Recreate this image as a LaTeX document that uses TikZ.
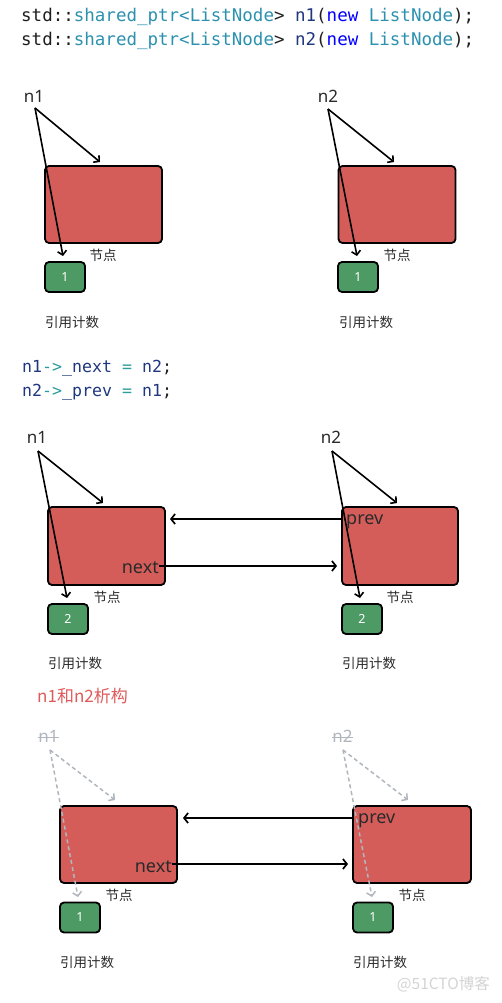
\documentclass[tikz,border=0pt]{standalone}
\usepackage{fontspec}
\setmainfont{Noto Sans}
\newfontfamily\cjk{Noto Sans CJK SC}
\newfontfamily\mono{DejaVu Sans Mono}
\usetikzlibrary{arrows.meta}
\definecolor{nodered}{HTML}{D45D5A}
\definecolor{cntgreen}{HTML}{4E9A64}
\definecolor{codetype}{HTML}{2B91AF}
\definecolor{codekw}{HTML}{0000FF}
\definecolor{codevar}{HTML}{1F377F}
\definecolor{codetxt}{HTML}{1E1E1E}
\definecolor{codeop}{HTML}{2A9D9A}
\definecolor{titlered}{HTML}{E05A5A}
\definecolor{ghost}{HTML}{B0B6BE}
\definecolor{lbl}{HTML}{2A2A2A}
\definecolor{wm}{HTML}{D4D4D4}
\tikzset{
  listnode/.style={draw=black, fill=nodered, line width=1.8pt, rounded corners=4pt,
    minimum width=117pt, minimum height=77pt, inner sep=0pt},
  cnt/.style={draw=black, fill=cntgreen, line width=1.8pt, rounded corners=4pt,
    minimum width=40pt, minimum height=30pt, inner sep=0pt, text=white,
    font=\fontsize{12.5}{14}\selectfont},
  ptr/.style={-{Straight Barb[length=4pt,width=9pt]}, line width=1.6pt, black},
  ghostptr/.style={-{Straight Barb[length=4pt,width=9pt]}, line width=1.5pt, ghost,
    dash pattern=on 4pt off 3pt},
  link/.style={-{Straight Barb[length=4pt,width=10pt]}, line width=1.7pt, black},
  varlbl/.style={inner sep=0pt, text=lbl, font=\fontsize{17}{19}\selectfont},
  fieldlbl/.style={inner sep=0pt, text=lbl, font=\fontsize{18}{20}\selectfont},
  cjklbl/.style={inner sep=0pt, text=lbl, font=\cjk\fontsize{13.5}{15}\selectfont},
  codeline/.style={inner sep=0pt, anchor=west},
}
\begin{document}
\begin{tikzpicture}[x=1pt,y=-1pt]
\useasboundingbox (0,0) rectangle (501,1003);
\fill[white] (0,0) rectangle (501,1003);

% ---------- code block 1 ----------
\node[codeline, font=\mono\fontsize{17.5}{20}\selectfont] (code1) at (21,17)
  {\textcolor{codetxt}{std::}\textcolor{codetype}{shared\_ptr<ListNode}\textcolor{codetxt}{>} \textcolor{codevar}{n1}\textcolor{codetxt}{(}\textcolor{codekw}{new} \textcolor{codetype}{ListNode}\textcolor{codetxt}{);}};
\node[codeline, font=\mono\fontsize{17.5}{20}\selectfont] (code2) at (21,41)
  {\textcolor{codetxt}{std::}\textcolor{codetype}{shared\_ptr<ListNode}\textcolor{codetxt}{>} \textcolor{codevar}{n2}\textcolor{codetxt}{(}\textcolor{codekw}{new} \textcolor{codetype}{ListNode}\textcolor{codetxt}{);}};

% ---------- section 1 ----------
\node[listnode] (a1) at (103.5,204.5) {};
\node[listnode] (a2) at (397,204.5) {};
\node[cnt] (ac1) at (65,277) {1};
\node[cnt] (ac2) at (358,277) {1};
\node[varlbl] (an1) at (34,96) {n1};
\node[varlbl] (an2) at (328,96) {n2};
\node[cjklbl] (ad1) at (103,255) {节点};
\node[cjklbl] (ad2) at (397,255) {节点};
\node[cjklbl] (ar1) at (72,322) {引用计数};
\node[cjklbl] (ar2) at (366,322) {引用计数};
\coordinate (as1) at (35,108);
\coordinate (as2) at (328,109);
\coordinate (at1) at (100,162);
\coordinate (au1) at (63,256);
\coordinate (at2) at (394,162);
\coordinate (au2) at (357,256);
\draw[ptr] (as1) -- (at1);
\draw[ptr] (as1) -- (au1);
\draw[ptr] (as2) -- (at2);
\draw[ptr] (as2) -- (au2);

% ---------- code block 2 ----------
\node[codeline, font=\mono\fontsize{16.6}{19}\selectfont] (code3) at (22,368)
  {\textcolor{codevar}{n1}\textcolor{codeop}{->}\textcolor{codevar}{\_next} \textcolor{codeop}{=} \textcolor{codevar}{n2}\textcolor{codetxt}{;}};
\node[codeline, font=\mono\fontsize{16.6}{19}\selectfont] (code4) at (22,392)
  {\textcolor{codevar}{n2}\textcolor{codeop}{->}\textcolor{codevar}{\_prev} \textcolor{codeop}{=} \textcolor{codevar}{n1}\textcolor{codetxt}{;}};

% ---------- section 2 ----------
\node[listnode, minimum height=78pt] (b1) at (106.5,546) {};
\node[listnode, minimum height=78pt, minimum width=116pt] (b2) at (400,546) {};
\node[cnt] (bc1) at (68,619) {2};
\node[cnt] (bc2) at (362,619) {2};
\node[varlbl] (bn1) at (37,437) {n1};
\node[varlbl] (bn2) at (331,437) {n2};
\node[cjklbl] (bd1) at (107,597) {节点};
\node[cjklbl] (bd2) at (400,597) {节点};
\node[cjklbl] (br1) at (75,663) {引用计数};
\node[cjklbl] (br2) at (369,663) {引用计数};
\node[fieldlbl, anchor=east] (bnext) at (159,568) {next};
\node[fieldlbl, anchor=west] (bprev) at (346,522) {prev};
\coordinate (bs1) at (38,451);
\coordinate (bs2) at (332,451);
\coordinate (bt1) at (103,503);
\coordinate (bu1) at (67,598);
\coordinate (bt2) at (397,503);
\coordinate (bu2) at (360,598);
\coordinate (bnextend) at (337,566);
\coordinate (bprevstart) at (343,519);
\coordinate (bprevend) at (170,519);
\draw[ptr] (bs1) -- (bt1);
\draw[ptr] (bs1) -- (bu1);
\draw[ptr] (bs2) -- (bt2);
\draw[ptr] (bs2) -- (bu2);
\draw[link] (bnext.east |- bnextend) -- (bnextend);
\draw[link] (bprevstart) -- (bprevend);

% ---------- section 3 ----------
\node[inner sep=0pt, anchor=west, text=titlered, font=\cjk\fontsize{17}{19}\selectfont] (title3) at (37,696) {n1和n2析构};
\node[listnode] (c1) at (118.5,844.5) {};
\node[listnode, minimum width=118pt] (c2) at (412,844.5) {};
\node[cnt] (cc1) at (80,917.5) {1};
\node[cnt] (cc2) at (373,917.5) {1};
\node[varlbl, text=ghost] (cn1) at (48.5,736) {n1};
\node[varlbl, text=ghost] (cn2) at (342.5,736) {n2};
\draw[ghost, line width=1pt] ([yshift=-1.5pt]cn1.west) -- ([yshift=-1.5pt]cn1.east);
\draw[ghost, line width=1pt] ([yshift=-1.5pt]cn2.west) -- ([yshift=-1.5pt]cn2.east);
\node[cjklbl] (cd1) at (119,895) {节点};
\node[cjklbl] (cd2) at (412,895) {节点};
\node[cjklbl] (cr1) at (87,962) {引用计数};
\node[cjklbl] (cr2) at (380,962) {引用计数};
\node[fieldlbl, anchor=east] (cnext) at (172,867) {next};
\node[fieldlbl, anchor=west] (cprev) at (358,821) {prev};
\coordinate (cs1) at (50,750);
\coordinate (cs2) at (343,750);
\coordinate (ct1) at (115,800);
\coordinate (cu1) at (78,897);
\coordinate (ct2) at (408,800);
\coordinate (cu2) at (372,897);
\coordinate (cnextend) at (348,864);
\coordinate (cprevstart) at (354,818);
\coordinate (cprevend) at (183,818);
\draw[ghostptr] (cs1) -- (ct1);
\draw[ghostptr] (cs1) -- (cu1);
\draw[ghostptr] (cs2) -- (ct2);
\draw[ghostptr] (cs2) -- (cu2);
\draw[link] (cnext.east |- cnextend) -- (cnextend);
\draw[link] (cprevstart) -- (cprevend);

% watermark
\node[inner sep=0pt, anchor=east, text=wm, font=\cjk\fontsize{15.5}{17}\selectfont] (wmark) at (490,984) {@51CTO博客};
\end{tikzpicture}
\end{document}
